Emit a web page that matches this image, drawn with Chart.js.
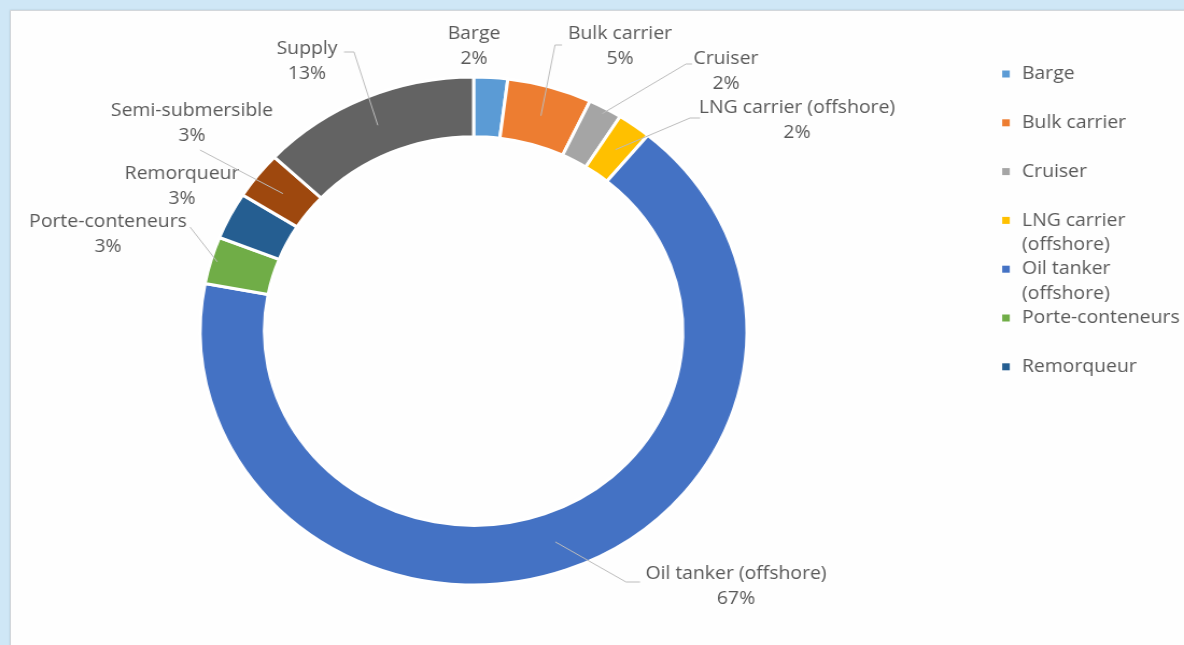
<!DOCTYPE html>
<html>
<head>
<meta charset="utf-8">
<title>Navires</title>
<script src="https://cdn.jsdelivr.net/npm/chart.js@4.4.0/dist/chart.umd.min.js"></script>
<style>
	html, body { margin: 0; padding: 0; }
	body { width: 1184px; height: 645px; overflow: hidden; background: #cfe7f6; position: relative; }
	#panel { position: absolute; left: 10px; top: 10px; width: 1180px; height: 640px; background: #fefefe; border: 1px solid #d3d7db; box-shadow: 0 0 2px rgba(0, 0, 0, 0.15); }
	#chartNavires { position: absolute; left: 0; top: 0; }
</style>
</head>
<body>
<div id="panel"></div>
<canvas id="chartNavires" width="1100" height="645" style="width: 1184px; height: 645px;"></canvas>
<script>
'use strict';

const categories = ['Barge', 'Bulk carrier', 'Cruiser', 'LNG carrier (offshore)', 'Oil tanker (offshore)', 'Porte-conteneurs', 'Remorqueur', 'Semi-submersible', 'Supply'];
const shares = [2, 5, 2, 2, 67, 3, 3, 3, 13];
const colors = ['#5B9BD5', '#ED7D31', '#A5A5A5', '#FFC000', '#4472C4', '#70AD47', '#255E91', '#9E480E', '#636363'];

// the canvas is drawn 1100 wide and stretched to 1184 by css
const stretch = 1184 / 1100;
const fontFamily = '"Open Sans", sans-serif';
const textColor = '#595959';
const fontSize = 18;

// label placement in page pixels: centre x, first line y,
// leader start / elbow and how deep into the ring the leader goes
const labelSpots = [
	{x: 474, y: 34},
	{x: 620, y: 34, from: [562, 45], stub: [555, 45]},
	{x: 726, y: 59, from: [692, 64], stub: [686, 64], depth: 0.9},
	{x: 797, y: 108, from: [700, 118], stub: [690, 118]},
	{x: 736, y: 574, from: [640, 582], stub: [626, 582]},
	{x: 108, y: 222, from: [190, 227], depth: 0.9},
	{x: 182, y: 174},
	{x: 192, y: 111, from: [200, 150]},
	{x: 307, y: 49, from: [344, 52], stub: [354, 52]}
];

function wrapText(ctx, text, maxWidth) {
	const words = text.split(' ');
	const lines = [];
	let line = '';
	words.forEach(function(w) {
		const test = line ? line + ' ' + w : w;
		if (line && ctx.measureText(test).width > maxWidth) {
			lines.push(line);
			line = w;
		} else {
			line = test;
		}
	});
	if (line) lines.push(line);
	return lines;
}

// outside labels with leader lines
const calloutPlugin = {
	id: 'callouts',
	afterDatasetsDraw: function(chart) {
		const ctx = chart.ctx;
		const meta = chart.getDatasetMeta(0);
		const total = shares.reduce(function(a, b) { return a + b; }, 0);
		ctx.save();
		ctx.font = fontSize + 'px ' + fontFamily;
		ctx.textAlign = 'center';
		ctx.textBaseline = 'middle';
		meta.data.forEach(function(arc, i) {
			const spot = labelSpots[i];
			if (spot.from) {
				const p = arc.getProps(['x', 'y', 'startAngle', 'endAngle', 'innerRadius', 'outerRadius'], true);
				const mid = (p.startAngle + p.endAngle) / 2;
				const r = p.innerRadius + (p.outerRadius - p.innerRadius) * (spot.depth || 0.5);
				ctx.strokeStyle = '#bcbcbc';
				ctx.lineWidth = 1;
				ctx.beginPath();
				ctx.moveTo(spot.from[0] / stretch, spot.from[1]);
				if (spot.stub) ctx.lineTo(spot.stub[0] / stretch, spot.stub[1]);
				ctx.lineTo(p.x + Math.cos(mid) * r, p.y + Math.sin(mid) * r);
				ctx.stroke();
			}
			const pct = Math.round(shares[i] / total * 100) + '%';
			ctx.fillStyle = textColor;
			ctx.fillText(categories[i], spot.x / stretch, spot.y);
			ctx.fillText(pct, spot.x / stretch, spot.y + 25);
		});
		ctx.restore();
	}
};

// legend on the right, entries that do not fit are cut off
const legendPlugin = {
	id: 'sideLegend',
	afterDraw: function(chart) {
		const ctx = chart.ctx;
		const textX = 1022 / stretch;
		const boxX = 1006 / stretch;
		ctx.save();
		ctx.font = fontSize + 'px ' + fontFamily;
		ctx.textAlign = 'left';
		ctx.textBaseline = 'middle';
		categories.forEach(function(name, i) {
			const y = 74 + i * 48.8;
			if (y > 400) return;
			ctx.fillStyle = colors[i];
			ctx.fillRect(boxX - 3.5, y - 3.5, 7, 7);
			ctx.fillStyle = textColor;
			wrapText(ctx, name, 152).forEach(function(line, k) {
				ctx.fillText(line, textX, y + k * 24.5);
			});
		});
		ctx.restore();
	}
};

const config = {
	type: 'doughnut',
	data: {
		labels: categories,
		datasets: [{
			data: shares,
			backgroundColor: colors,
			borderColor: '#ffffff',
			borderWidth: 3,
			hoverOffset: 0,
			radius: 254,
			cutout: '76.5%'
		}]
	},
	options: {
		responsive: false,
		devicePixelRatio: 1,
		animation: false,
		events: [],
		layout: {
			padding: {left: 186, right: 406, top: 77, bottom: 60}
		},
		plugins: {
			legend: {display: false},
			tooltip: {enabled: false}
		}
	},
	plugins: [calloutPlugin, legendPlugin]
};

const chartNavires = new Chart(document.getElementById('chartNavires'), config);
</script>
</body>
</html>
